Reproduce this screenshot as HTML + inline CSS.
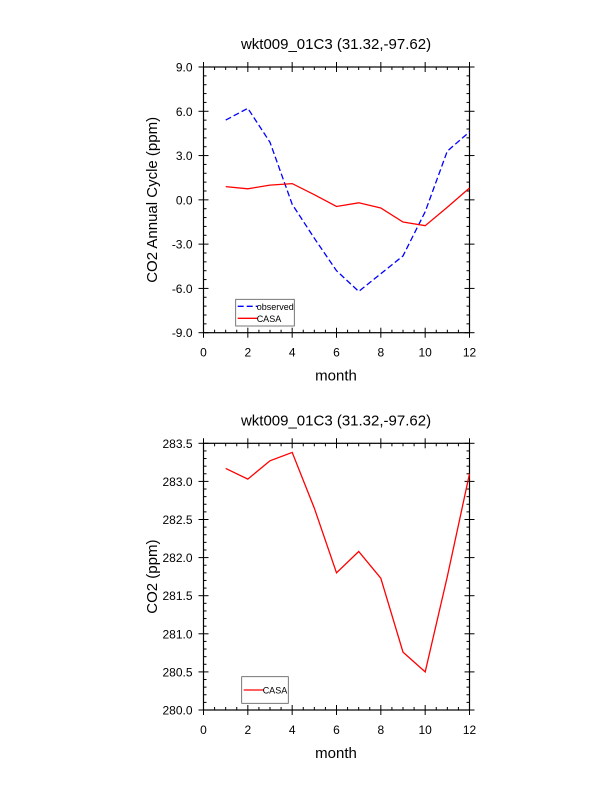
<!DOCTYPE html>
<html><head><meta charset="utf-8"><style>body{margin:0;background:#fff}svg{display:block}</style></head>
<body>
<svg id="s" width="612" height="792" xmlns="http://www.w3.org/2000/svg" font-family="Liberation Sans, sans-serif"></svg>
<script>
var s=document.getElementById('s'),h='';
function L(x1,y1,x2,y2,c,w,d){h+='<line x1="'+x1+'" y1="'+y1+'" x2="'+x2+'" y2="'+y2+'" stroke="'+(c||'#000')+'" stroke-width="'+(w||1)+'"'+(d?' stroke-dasharray="'+d+'"':'')+'/>';}
function T(x,y,t,sz,a,extra){h+='<text x="'+x+'" y="'+y+'" font-size="'+sz+'" text-anchor="'+(a||'middle')+'"'+(extra||'')+'>'+t+'</text>';}
function plot(top,bot,ymin,ymax,maj,minr,dec,ylab,series,leg){
 var x0=203.5,x1=469.5;
 function X(m){return x0+(x1-x0)*m/12;}
 function Y(v){return bot-(bot-top)*(v-ymin)/(ymax-ymin);}
 h+='<rect x="'+x0+'" y="'+top+'" width="'+(x1-x0)+'" height="'+(bot-top)+'" fill="none" stroke="#000" stroke-width="1.2"/>';
 for(var m=0;m<=12;m+=0.5){var x=X(m),M=(m%2==0);var l=M?5:3;
  L(x,bot,x,bot-l);L(x,top,x,top+l);
  if(M){L(x,bot,x,bot+5);L(x,top,x,top-5);T(x,bot+24,m,12);}}
 var n=Math.round((ymax-ymin)/minr);
 for(var i=0;i<=n;i++){var v=ymin+i*minr,y=Y(v);var M=Math.abs(Math.round((v-ymin)/maj)*maj-(v-ymin))<1e-6;var l=M?5:3;
  L(x0,y,x0+l,y);L(x1,y,x1-l,y);
  if(M){L(x0,y,x0-5,y);L(x1,y,x1+5,y);T(x0-11,y+4.5,v.toFixed(dec).replace('-0.0','0.0'),12,'end');}}
 T(336,top-18,'wkt009_01C3 (31.32,-97.62)',15);
 T(336,bot+48,'month',15);
 T(157,(top+bot)/2,ylab,15,'middle',' transform="rotate(-90 157 '+(top+bot)/2+')" dy="0"');
 series.forEach(function(sr){var p=sr.d.map(function(v,i){return X(i+1).toFixed(1)+','+Y(v).toFixed(1)}).join(' ');
  h+='<polyline points="'+p+'" fill="none" stroke="'+sr.c+'" stroke-width="1.3"'+(sr.dash?' stroke-dasharray="6,3"':'')+'/>';});
 h+='<rect x="'+leg.x+'" y="'+leg.y+'" width="'+leg.w+'" height="'+leg.h+'" fill="#fff" stroke="#555" stroke-width="0.8"/>';
 leg.items.forEach(function(it,i){var y=leg.y+leg.first+i*12;L(leg.x+2,y,leg.x+22,y,it.c,1.3,it.dash?'6,3':null);T(leg.x+21,y+3.5,it.t,9,'start');});
}
plot(67,332.7,-9,9,3,0.6,1,'CO2 Annual Cycle (ppm)',[
 {c:'#0000ff',dash:1,d:[5.4,6.2,3.9,-0.3,-2.6,-4.8,-6.2,-5.0,-3.8,-0.8,3.3,4.6]},
 {c:'#ff0000',d:[0.9,0.75,1.0,1.1,0.35,-0.45,-0.2,-0.55,-1.5,-1.75,-0.5,0.8]}],
 {x:235.7,y:299.3,w:58.6,h:26.7,first:7,items:[{t:'observed',c:'#0000ff',dash:1},{t:'CASA',c:'#ff0000'}]});
plot(443.3,710,280,283.5,0.5,0.1,1,'CO2 (ppm)',[
 {c:'#ff0000',d:[283.17,283.03,283.27,283.38,282.65,281.8,282.08,281.73,280.76,280.5,281.75,283.1]}],
 {x:241.7,y:676.7,w:46.6,h:26.6,first:13.3,items:[{t:'CASA',c:'#ff0000'}]});
s.innerHTML=h;
</script>
</body></html>
